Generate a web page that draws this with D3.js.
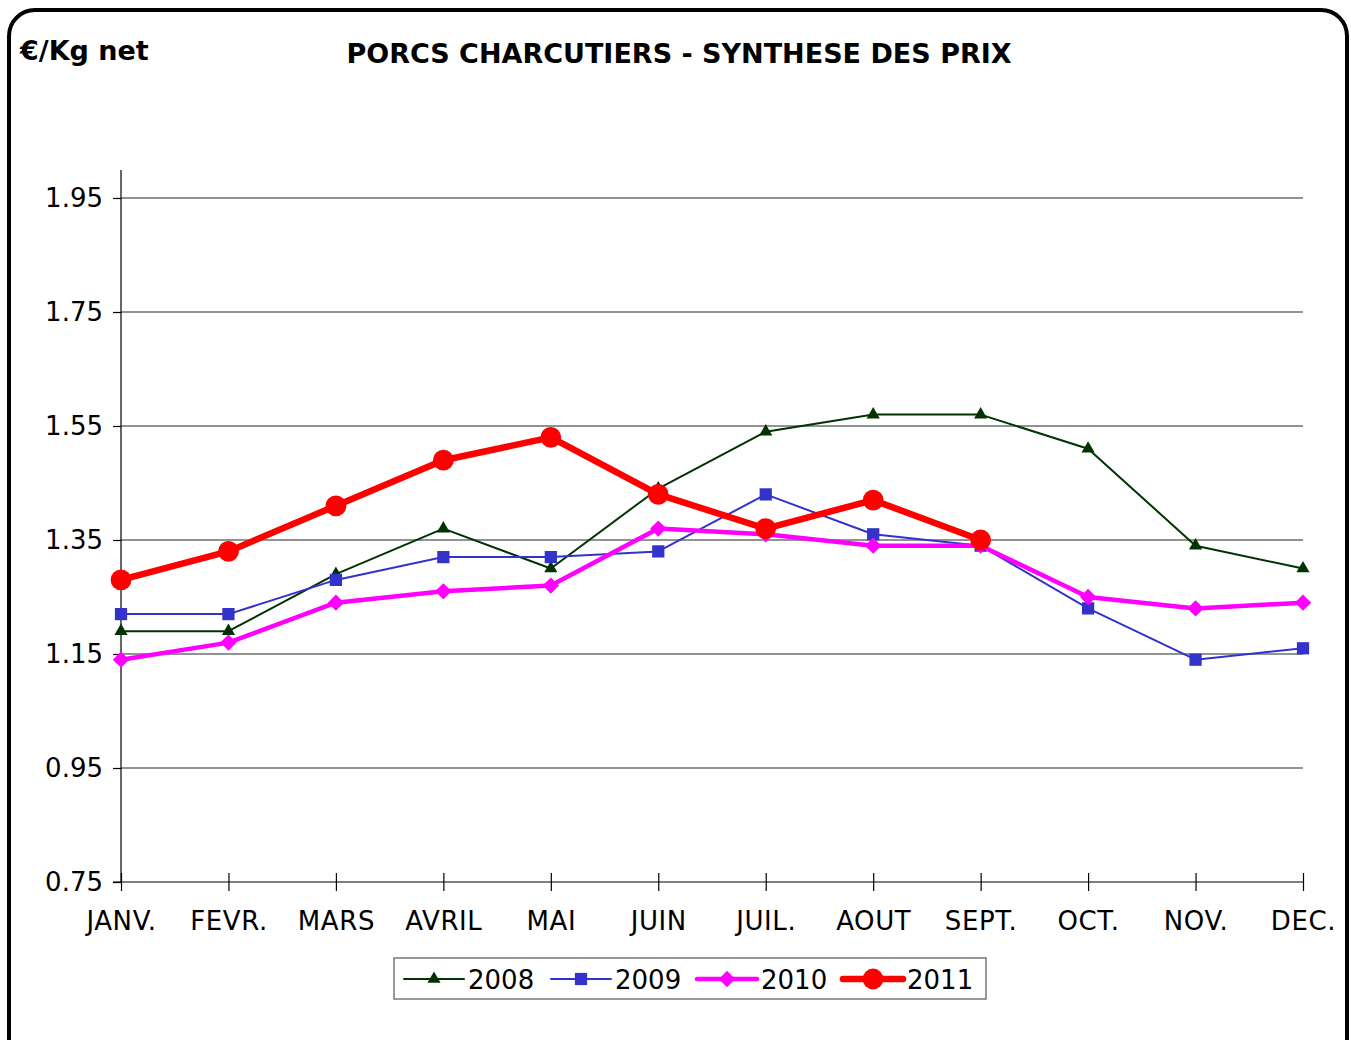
<!DOCTYPE html>
<html>
<head>
<meta charset="utf-8">
<script src="https://cdn.jsdelivr.net/npm/d3@7"></script>
<style>
  html, body { margin: 0; padding: 0; background: #fff; }
  svg { display: block; font-family: "DejaVu Sans", Verdana, sans-serif; }
</style>
</head>
<body>
<div id="chart"></div>
<script>
const months = ["JANV.", "FEVR.", "MARS", "AVRIL", "MAI", "JUIN", "JUIL.", "AOUT", "SEPT.", "OCT.", "NOV.", "DEC."];
const yTicks = [0.75, 0.95, 1.15, 1.35, 1.55, 1.75, 1.95];
const years = ["2008", "2009", "2010", "2011"];
const prices2008 = [1.19, 1.19, 1.29, 1.37, 1.30, 1.44, 1.54, 1.57, 1.57, 1.51, 1.34, 1.30];
const prices2009 = [1.22, 1.22, 1.28, 1.32, 1.32, 1.33, 1.43, 1.36, 1.34, 1.23, 1.14, 1.16];
const prices2010 = [1.14, 1.17, 1.24, 1.26, 1.27, 1.37, 1.36, 1.34, 1.34, 1.25, 1.23, 1.24];
const prices2011 = [1.28, 1.33, 1.41, 1.49, 1.53, 1.43, 1.37, 1.42, 1.35];

const STYLES = {
  "2008": { color: "#003300", width: 2, symbol: d3.symbolTriangle, size: 75 },
  "2009": { color: "#3333CC", width: 2, symbol: d3.symbolSquare, size: 150 },
  "2010": { color: "#FF00FF", width: 4.5, symbol: d3.symbolDiamond2, size: 170 },
  "2011": { color: "#FF0000", width: 6.5, symbol: d3.symbolCircle, size: 340 }
};

const series = [prices2008, prices2009, prices2010, prices2011].map((vals, i) => ({
  name: years[i],
  values: vals.map((v, j) => ({ month: months[j], value: v }))
}));

const width = 1351;
const height = 1040;
const plot = { left: 121, right: 1303, top: 198, bottom: 882 };

const svg = d3.select("#chart").append("svg")
  .attr("width", width)
  .attr("height", height);

// frame
svg.append("rect")
  .attr("x", 9).attr("y", 10)
  .attr("width", 1338).attr("height", 1060)
  .attr("rx", 26).attr("ry", 26)
  .attr("fill", "#fff")
  .attr("stroke", "#000")
  .attr("stroke-width", 4);

const x = d3.scalePoint().domain(months).range([plot.left, plot.right]);
const y = d3.scaleLinear().domain([0.75, 1.95]).range([plot.bottom, plot.top]);

// gridlines
svg.append("g")
  .selectAll("line")
  .data(yTicks.filter(t => t > 0.75))
  .join("line")
  .attr("x1", plot.left).attr("x2", plot.right)
  .attr("y1", d => y(d)).attr("y2", d => y(d))
  .attr("stroke", "#6e6e6e")
  .attr("stroke-width", 1.5);

// y axis
const leftAxis = d3.axisLeft(y).tickValues(yTicks).tickFormat(d3.format(".2f")).tickSize(8).tickPadding(10);
const gy = svg.append("g")
  .attr("transform", `translate(${plot.left},0)`)
  .call(leftAxis);
gy.select(".domain").remove();
gy.append("line")
  .attr("x1", 0).attr("x2", 0)
  .attr("y1", 170).attr("y2", plot.bottom)
  .attr("stroke", "#000").attr("stroke-width", 1.2);
gy.selectAll(".tick line").attr("stroke", "#000").attr("stroke-width", 1.2);
gy.selectAll(".tick text")
  .attr("fill", "#000")
  .style("font-size", "26px")
  .style("font-family", "DejaVu Sans, Verdana, sans-serif");

// x axis
const bottomAxis = d3.axisBottom(x).tickSize(9).tickPadding(21);
const gx = svg.append("g")
  .attr("transform", `translate(0,${plot.bottom})`)
  .call(bottomAxis);
gx.select(".domain").remove();
gx.append("line")
  .attr("x1", 113).attr("x2", plot.right)
  .attr("stroke", "#000").attr("stroke-width", 1.2);
gx.selectAll(".tick line")
  .attr("y1", -9)
  .attr("stroke", "#000").attr("stroke-width", 1.2);
gx.selectAll(".tick text")
  .attr("fill", "#000")
  .style("font-size", "26px")
  .style("letter-spacing", "0.6px")
  .style("font-family", "DejaVu Sans, Verdana, sans-serif");

// lines + markers
const line = d3.line().x(d => x(d.month)).y(d => y(d.value));
const groups = svg.append("g")
  .selectAll("g")
  .data(series)
  .join("g");

groups.append("path")
  .attr("d", d => line(d.values))
  .attr("fill", "none")
  .attr("stroke", d => STYLES[d.name].color)
  .attr("stroke-width", d => STYLES[d.name].width)
  .attr("stroke-linejoin", "round");

groups.each(function(s) {
  const st = STYLES[s.name];
  d3.select(this).selectAll("path.mark")
    .data(s.values)
    .join("path")
    .attr("class", "mark")
    .attr("transform", d => `translate(${x(d.month)},${y(d.value)})`)
    .attr("d", d3.symbol().type(st.symbol).size(st.size))
    .attr("fill", st.color);
});

// titles
svg.append("text")
  .attr("x", 20).attr("y", 60)
  .style("font-size", "27px").style("font-weight", "bold")
  .text("€/Kg net");
svg.append("text")
  .attr("x", 679).attr("y", 63)
  .attr("text-anchor", "middle")
  .style("font-size", "27px").style("font-weight", "bold")
  .text("PORCS CHARCUTIERS - SYNTHESE DES PRIX");

// legend
const legend = svg.append("g").attr("transform", "translate(394,958)");
legend.append("rect")
  .attr("width", 592).attr("height", 41)
  .attr("fill", "#fff")
  .attr("stroke", "#555").attr("stroke-width", 1.2);
const legendX = [8, 155, 301, 447];
years.forEach((name, i) => {
  const st = STYLES[name];
  const g = legend.append("g").attr("transform", `translate(${legendX[i]},21)`);
  g.append("line")
    .attr("x1", 2).attr("x2", 62)
    .attr("stroke", st.color)
    .attr("stroke-width", st.width)
    .attr("stroke-linecap", "round");
  g.append("path")
    .attr("transform", "translate(32,0)")
    .attr("d", d3.symbol().type(st.symbol).size(st.size))
    .attr("fill", st.color);
  g.append("text")
    .attr("x", 66).attr("y", 10)
    .style("font-size", "26px")
    .text(name);
});
</script>
</body>
</html>
